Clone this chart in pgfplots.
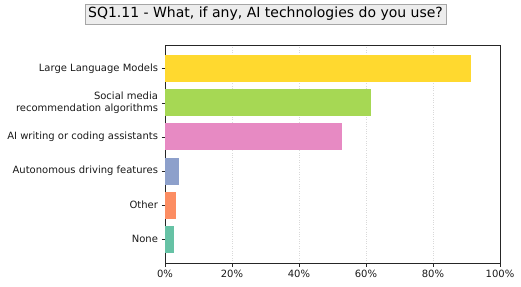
\documentclass[border=0pt]{standalone}
\usepackage{pgfplots}
\pgfplotsset{compat=1.18}
\usepackage{fontspec}
\setmainfont{DejaVu Sans}
\definecolor{cNone}{HTML}{66C2A5}
\definecolor{cOther}{HTML}{FC8D62}
\definecolor{cAuto}{HTML}{8DA0CB}
\definecolor{cWrite}{HTML}{E78AC3}
\definecolor{cSocial}{HTML}{A6D854}
\definecolor{cLLM}{HTML}{FFD92F}
\begin{document}
\begin{tikzpicture}
\useasboundingbox (0bp,0bp) rectangle (521bp,287bp);
\node[draw=black!35, fill=black!7, inner xsep=3bp, inner ysep=3bp, font=\fontsize{14bp}{16bp}\selectfont, text=black] at (265.5bp,273bp) {SQ1.11 - What, if any, AI technologies do you use?};
\begin{axis}[
  at={(165bp,24bp)}, anchor=south west,
  scale only axis, width=335bp, height=218bp,
  xmin=0, xmax=100, ymin=-0.7, ymax=5.7,
  xtick={0,20,40,60,80,100},
  xticklabels={0\%,20\%,40\%,60\%,80\%,100\%},
  ytick={0,1,2,3,4,5},
  yticklabels={None,Other,Autonomous driving features,AI writing or coding assistants,{Social media\\recommendation algorithms},Large Language Models},
  yticklabel style={align=right},
  tick label style={font=\fontsize{10bp}{11.5bp}\selectfont, text=black!90},
  tick align=outside, tick pos=left,
  major tick length=3.5bp,
  tick style={black!85, line width=0.8bp},
  axis line style={black!85, line width=0.8bp},
  xmajorgrids, grid style={black!15, dotted, line width=0.8bp},
  /pgf/number format/assume math mode=true,
]
\addplot[xbar, bar width=27bp, fill=cNone, draw=none] coordinates {(2.6,0)};
\addplot[xbar, bar width=27bp, fill=cOther, draw=none] coordinates {(3.3,1)};
\addplot[xbar, bar width=27bp, fill=cAuto, draw=none] coordinates {(4.2,2)};
\addplot[xbar, bar width=27bp, fill=cWrite, draw=none] coordinates {(52.8,3)};
\addplot[xbar, bar width=27bp, fill=cSocial, draw=none] coordinates {(61.5,4)};
\addplot[xbar, bar width=27bp, fill=cLLM, draw=none] coordinates {(91.3,5)};
\end{axis}
\end{tikzpicture}
\end{document}
